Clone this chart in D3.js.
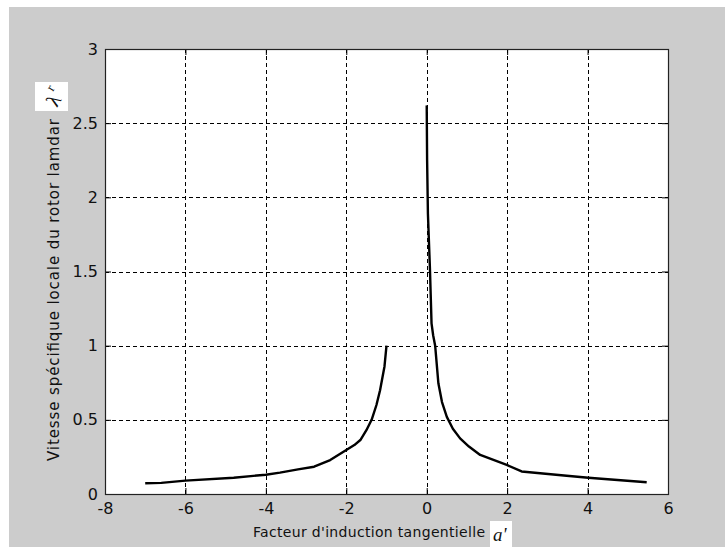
<!DOCTYPE html>
<html>
<head>
<meta charset="utf-8">
<style>
body { margin: 0; background: #fff; }
svg { display: block; }
.tick text { font-family: "DejaVu Sans", sans-serif; font-size: 16px; fill: #111; }
.grid line { stroke: #000; stroke-dasharray: 4,3; shape-rendering: crispEdges; }
</style>
</head>
<body>
<svg id="chart" width="725" height="547"></svg>
<script src="https://d3js.org/d3.v7.min.js"></script>
<script>
// left branch (a' < -1)
let leftX = [-7.0, -6.6, -6.0, -4.8, -4.0, -3.65, -3.2, -2.8, -2.4, -2.0, -1.8, -1.65, -1.5, -1.37, -1.25, -1.16, -1.05, -1.0];
let leftY = [0.072, 0.075, 0.09, 0.11, 0.13, 0.144, 0.166, 0.184, 0.229, 0.297, 0.33, 0.364, 0.43, 0.50, 0.60, 0.70, 0.86, 1.0];
// right branch (a' > 0)
let rightX = [0.0, 0.01, 0.03, 0.08, 0.12, 0.16, 0.21, 0.29, 0.38, 0.50, 0.65, 0.83, 1.05, 1.33, 1.99, 2.36, 3.48, 4.02, 5.47];
let rightY = [2.62, 2.25, 1.89, 1.52, 1.15, 1.07, 1.0, 0.746, 0.62, 0.52, 0.44, 0.375, 0.32, 0.263, 0.196, 0.152, 0.123, 0.110, 0.079];
let xTicks = [-8, -6, -4, -2, 0, 2, 4, 6];
let yTicks = [0, 0.5, 1, 1.5, 2, 2.5, 3];

let svg = d3.select("#chart");
let margin = {top: 49, left: 105, right: 57, bottom: 53},
    width = 725 - margin.left - margin.right,
    height = 547 - margin.top - margin.bottom;

// figure background
svg.append("rect").attr("x", 9).attr("y", 7).attr("width", 716).attr("height", 540).attr("fill", "#cccccc");

let chart = svg.append("g").attr("transform", "translate(" + margin.left + "," + margin.top + ")");
chart.append("rect").attr("width", width).attr("height", height).attr("fill", "#fff");

let x = d3.scaleLinear().domain([-8, 6]).range([0, width]);
let y = d3.scaleLinear().domain([0, 3]).range([height, 0]);

// grid
chart.append("g").attr("class", "grid")
  .selectAll("line").data(xTicks.slice(1, -1)).join("line")
  .attr("x1", d => Math.round(x(d)) + 0.5).attr("x2", d => Math.round(x(d)) + 0.5)
  .attr("y1", 0).attr("y2", height);
chart.append("g").attr("class", "grid")
  .selectAll("line").data(yTicks.slice(1, -1)).join("line")
  .attr("y1", d => Math.round(y(d)) + 0.5).attr("y2", d => Math.round(y(d)) + 0.5)
  .attr("x1", 0).attr("x2", width);

// axes, ticks inside
let fmt = d => String(d);
chart.append("g").attr("transform", "translate(0," + height + ")")
  .call(d3.axisBottom(x).tickValues(xTicks).tickFormat(fmt).tickSizeInner(-6).tickSizeOuter(0).tickPadding(9))
  .call(g => g.select(".domain").remove());
chart.append("g")
  .call(d3.axisTop(x).tickValues(xTicks).tickFormat("").tickSizeInner(-6).tickSizeOuter(0))
  .call(g => g.select(".domain").remove());
chart.append("g")
  .call(d3.axisLeft(y).tickValues(yTicks).tickFormat(fmt).tickSizeInner(-6).tickSizeOuter(0).tickPadding(7))
  .call(g => g.select(".domain").remove());
chart.append("g").attr("transform", "translate(" + width + ",0)")
  .call(d3.axisRight(y).tickValues(yTicks).tickFormat("").tickSizeInner(-6).tickSizeOuter(0))
  .call(g => g.select(".domain").remove());

chart.selectAll(".tick line").attr("stroke", "#000");

// box
chart.append("rect").attr("x", 0.5).attr("y", 0.5).attr("width", width).attr("height", height)
  .attr("fill", "none").attr("stroke", "#222").attr("stroke-width", 1.2);

// curves
let line = d3.line().x(d => x(d[0])).y(d => y(d[1]));
let branches = [d3.zip(leftX, leftY), d3.zip(rightX, rightY)];
chart.selectAll(".curve").data(branches).join("path")
  .attr("class", "curve")
  .attr("d", line)
  .attr("fill", "none").attr("stroke", "#000").attr("stroke-width", 2.4)
  .attr("stroke-linejoin", "round");

// labels
svg.append("text").attr("x", 253).attr("y", 537)
  .attr("font-family", "DejaVu Sans, sans-serif").attr("font-size", 14).attr("fill", "#111")
  .attr("textLength", 232)
  .text("Facteur d'induction tangentielle");
svg.append("rect").attr("x", 490).attr("y", 521).attr("width", 22).attr("height", 26).attr("fill", "#fff");
svg.append("text").attr("x", 493).attr("y", 541)
  .attr("font-family", "Liberation Serif, serif").attr("font-style", "italic").attr("font-size", 19).attr("fill", "#111")
  .text("a'");

svg.append("text").attr("transform", "translate(59,290) rotate(-90)").attr("text-anchor", "middle")
  .attr("font-family", "DejaVu Sans, sans-serif").attr("font-size", 15).attr("fill", "#111")
  .attr("textLength", 342)
  .text("Vitesse spécifique locale du rotor lamdar");
svg.append("rect").attr("x", 35).attr("y", 82).attr("width", 33).attr("height", 29).attr("fill", "#fff");
svg.append("text").attr("transform", "translate(57,108) rotate(-60)")
  .attr("font-family", "Liberation Serif, serif").attr("font-size", 20).attr("fill", "#111")
  .text("λ");
svg.append("text").attr("transform", "translate(53,92) rotate(-60)")
  .attr("font-family", "Liberation Serif, serif").attr("font-size", 13).attr("fill", "#111")
  .text("r");
</script>
</body>
</html>
